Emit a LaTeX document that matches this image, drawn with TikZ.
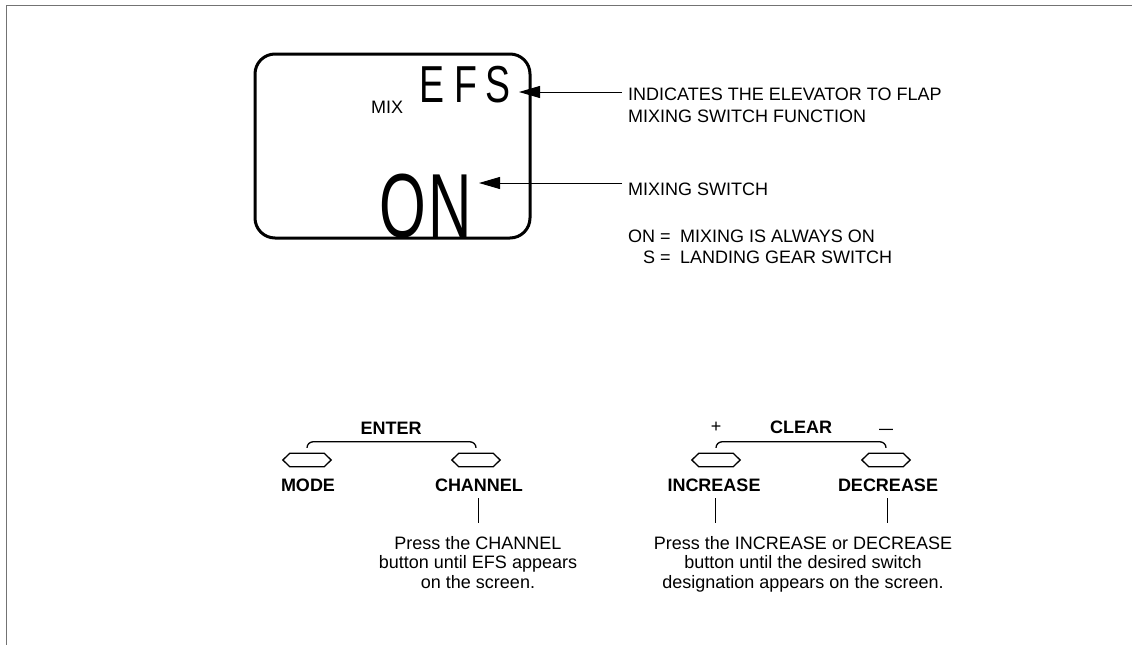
\documentclass[tikz,border=0pt]{standalone}
\usepackage{fontspec}
\usepackage{graphicx}
\setmainfont{Liberation Sans}
\usetikzlibrary{arrows.meta}
\definecolor{framec}{rgb}{0.45,0.45,0.45}
\newcommand{\hexbtn}[1]{%
  \draw[btnline] (#1.west) -- ([xshift=7pt]#1.north west) -- ([xshift=-7pt]#1.north east) -- (#1.east) -- ([xshift=-7pt]#1.south east) -- ([xshift=7pt]#1.south west) -- cycle;}
\begin{document}
\begin{tikzpicture}[x=1pt,y=-1pt,
  lbl/.style={inner sep=0pt, font=\fontsize{18}{22}\selectfont},
  blbl/.style={inner sep=0pt, font=\fontsize{18}{22}\selectfont\bfseries},
  txt/.style={inner sep=0pt, align=center, font=\fontsize{18}{19.5}\selectfont},
  hexn/.style={inner sep=0pt, minimum width=48pt, minimum height=13pt},
  btnline/.style={line width=1.3pt, line join=miter},
  brk/.style={line width=1.3pt, rounded corners=6pt},
  leader/.style={line width=0.9pt},
  arr/.style={line width=0.9pt, -{Triangle[length=21pt,width=12pt]}},
  framel/.style={draw=framec, line width=1.6pt}
]
\useasboundingbox (0,0) rectangle (1132,645);
% frame
\draw[framel] (6,5.5) -- (1132,5.5);
\draw[framel] (6.5,5) -- (6.5,645);

% LCD screen
\node[draw, line width=3pt, rounded corners=20pt, minimum width=275pt, minimum height=184pt, inner sep=0pt] (lcd) at (392.5,146) {};
\node[lbl, anchor=base west] (mix) at (371,113) {MIX};
\node[inner sep=0pt, anchor=base west, font=\fontsize{52}{52}\selectfont] (efs) at (419,102) {\scalebox{0.72}[1]{E\kern14pt F\kern12pt S}};
\node[inner sep=0pt, anchor=base west, font=\fontsize{91}{91}\selectfont] (on) at (379,237) {\scalebox{0.66}[1]{O\kern4pt N}};

% callouts
\node[lbl, anchor=base west] (ind1) at (628,100) {INDICATES THE ELEVATOR TO FLAP};
\node[lbl, anchor=base west] (ind2) at (628,122) {MIXING SWITCH FUNCTION};
\node[lbl, anchor=base west] (msw) at (628,195) {MIXING SWITCH};
\node[lbl, anchor=base west] (oneq) at (628,242) {ON =};
\node[lbl, anchor=base east] (seq) at (oneq.base east |- 0,263) {S =};
\node[lbl, anchor=base west] (onl) at (680,242) {MIXING IS ALWAYS ON};
\node[lbl, anchor=base west] (sl) at (680,263) {LANDING GEAR SWITCH};
\coordinate (a1s) at (622,92);
\coordinate (a1e) at (519,92);
\coordinate (a2s) at (622,183);
\coordinate (a2e) at (479,183);
\draw[arr] (a1s) -- (a1e);
\draw[arr] (a2s) -- (a2e);

% ENTER group
\node[blbl, anchor=base] (enter) at (391,434) {ENTER};
\node[hexn] (modeb) at (307,460) {};
\node[hexn] (chanb) at (476,460) {};
\hexbtn{modeb}
\hexbtn{chanb}
\draw[brk] ([yshift=5.5pt]modeb.north) -- ++(0,-6) -| ([yshift=5.5pt]chanb.north);
\node[blbl, anchor=base] (model) at (308,491) {MODE};
\node[blbl, anchor=base] (chanl) at (479,491) {CHANNEL};
\node[txt, anchor=north] (chtxt) at (478,536) {Press the CHANNEL\\button until EFS appears\\on the screen.};
\draw[leader] ([yshift=-7pt]chanl.south -| chtxt.north) -- ([yshift=13pt]chtxt.north);

% CLEAR group
\node[blbl, anchor=base] (clear) at (801,433) {CLEAR};
\node[lbl] (plus) at (716,427) {+};
\node[lbl] (minus) at (886,432) {\scalebox{1.4}[1]{–}};
\node[hexn] (incb) at (716,460) {};
\node[hexn] (decb) at (886,460) {};
\hexbtn{incb}
\hexbtn{decb}
\draw[brk] ([yshift=5.5pt]incb.north) -- ++(0,-6) -| ([yshift=5.5pt]decb.north);
\node[blbl, anchor=base] (incl) at (714,491) {INCREASE};
\node[blbl, anchor=base] (decl) at (888,491) {DECREASE};
\node[txt, anchor=north] (idtxt) at (803,536) {Press the INCREASE or DECREASE\\button until the desired switch\\designation appears on the screen.};
\coordinate (incend) at (715,523);
\coordinate (decend) at (887,523);
\draw[leader] ([yshift=-7pt]incl.south -| incend) -- (incend);
\draw[leader] ([yshift=-7pt]decl.south -| decend) -- (decend);
\end{tikzpicture}
\end{document}
